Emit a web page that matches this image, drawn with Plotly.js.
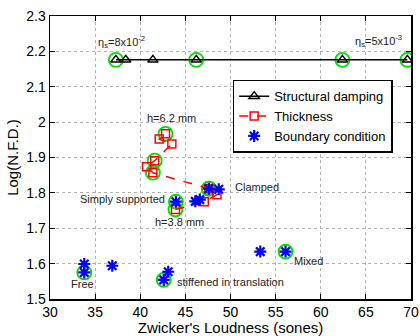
<!DOCTYPE html>
<html><head><meta charset="utf-8">
<script src="https://cdn.plot.ly/plotly-3.0.1.min.js"></script>
<style>body{margin:0;background:#fff}#chart{width:420px;height:336px}</style>
</head><body><div id="chart"></div>
<script>
// Structural damping series
var dampX = [37.3, 38.4, 41.4, 46.2, 62.4, 69.6];
var dampY = [2.176, 2.176, 2.176, 2.176, 2.176, 2.176];
var dampCircled = [0, 3, 4, 5];
// Thickness series (ordered from h=3.8 mm to h=6.2 mm)
var thickX = [43.9, 47.1, 48.5, 47.6, 41.4, 40.7, 41.6, 43.5, 42.1, 42.8];
var thickY = [1.753, 1.775, 1.795, 1.812, 1.857, 1.874, 1.891, 1.938, 1.952, 1.967];
var thickCircled = [0, 3, 4, 6, 9];
// Boundary condition series
var bcX = [33.8, 33.8, 36.9, 43.1, 42.6, 43.95, 46.1, 46.6, 47.6, 48.7, 53.3, 56.1];
var bcY = [1.599, 1.575, 1.594, 1.577, 1.554, 1.775, 1.776, 1.781, 1.812, 1.810, 1.634, 1.634];
var bcCircled = [1, 4, 5, 8, 11];
// Tick labels
var xTicks = [30, 35, 40, 45, 50, 55, 60, 65, 70];
var xTickText = ['30', '35', '40', '45', '50', '55', '60', '65', '70'];
var yTicks = [1.5, 1.6, 1.7, 1.8, 1.9, 2.0, 2.1, 2.2, 2.3];
var yTickText = ['1.5', '1.6', '1.7', '1.8', '1.9', '2', '2.1', '2.2', '2.3'];
// Labels
var labelText = ['η<sub>s</sub>=8x10<sup>-2</sup>', 'η<sub>s</sub>=5x10<sup>-3</sup>', 'h=6.2 mm', 'h=3.8 mm',
  'Simply supported', 'Clamped', 'Free', 'stiffened in translation', 'Mixed'];
var labelX = [37.9, 66.4, 43.5, 44.4, 38.0, 52.9, 33.65, 50.0, 58.6];
var labelY = [2.226, 2.228, 2.012, 1.718, 1.783, 1.817, 1.543, 1.549, 1.608];

function pick(arr, idx){ return idx.map(function(i){return arr[i];}); }
var cX = pick(dampX, dampCircled).concat(pick(thickX, thickCircled), pick(bcX, bcCircled));
var cY = pick(dampY, dampCircled).concat(pick(thickY, thickCircled), pick(bcY, bcCircled));

var traces = [
  {x: cX, y: cY, mode: 'markers', showlegend: false, hoverinfo: 'skip',
   marker: {symbol: 'circle-open', size: 14, color: '#00dd00', line: {width: 1.8, color: '#00dd00'}}},
  {x: dampX, y: dampY, mode: 'lines+markers', name: 'Structural damping',
   line: {color: 'black', width: 1.5},
   marker: {symbol: 'triangle-up-open', size: 9, color: 'black', line: {width: 1.5, color: 'black'}}},
  {x: thickX, y: thickY, mode: 'lines+markers', name: 'Thickness',
   line: {color: 'red', width: 1.5, dash: 'dash'},
   marker: {symbol: 'square-open', size: 8, color: 'red', line: {width: 1.5, color: 'red'}}},
  {x: bcX, y: bcY, mode: 'markers', name: 'Boundary condition',
   marker: {symbol: 'asterisk-open', size: 10, color: 'blue', line: {width: 2.2, color: 'blue'}}}
];

var annotations = labelText.map(function(t, i){
  return {x: labelX[i], y: labelY[i], text: t, showarrow: false, xref: 'x', yref: 'y',
    font: {family: 'Liberation Sans, Arial', size: 11, color: '#222'}};
});

var axisCommon = {showline: true, linecolor: 'black', linewidth: 1.5, mirror: 'ticks',
  ticks: 'inside', ticklen: 5, tickcolor: 'black', showgrid: true, gridcolor: '#b0b0b0',
  griddash: 'dot', gridwidth: 1, zeroline: false, tickmode: 'array',
  tickfont: {family: 'Liberation Sans, Arial', size: 14, color: 'black'}};

var layout = {
  width: 420, height: 336,
  margin: {l: 50, r: 9, t: 16, b: 37},
  paper_bgcolor: 'white', plot_bgcolor: 'white',
  showlegend: true,
  legend: {x: 0.506, y: 0.775, xanchor: 'left', yanchor: 'top', bgcolor: 'white',
    bordercolor: 'black', borderwidth: 1.5, tracegroupgap: 0,
    font: {family: 'Liberation Sans, Arial', size: 13, color: 'black'}},
  xaxis: Object.assign({}, axisCommon, {range: [30, 70], tickvals: xTicks, ticktext: xTickText,
    title: {text: "Zwicker's Loudness (sones)", standoff: 2,
      font: {family: 'Liberation Sans, Arial', size: 15, color: 'black'}}}),
  yaxis: Object.assign({}, axisCommon, {range: [1.5, 2.3], tickvals: yTicks, ticktext: yTickText,
    title: {text: 'Log(N.F.D.)', standoff: 4,
      font: {family: 'Liberation Sans, Arial', size: 15, color: 'black'}}}),
  annotations: annotations
};

Plotly.newPlot('chart', traces, layout, {displayModeBar: false, staticPlot: true});
</script></body></html>
